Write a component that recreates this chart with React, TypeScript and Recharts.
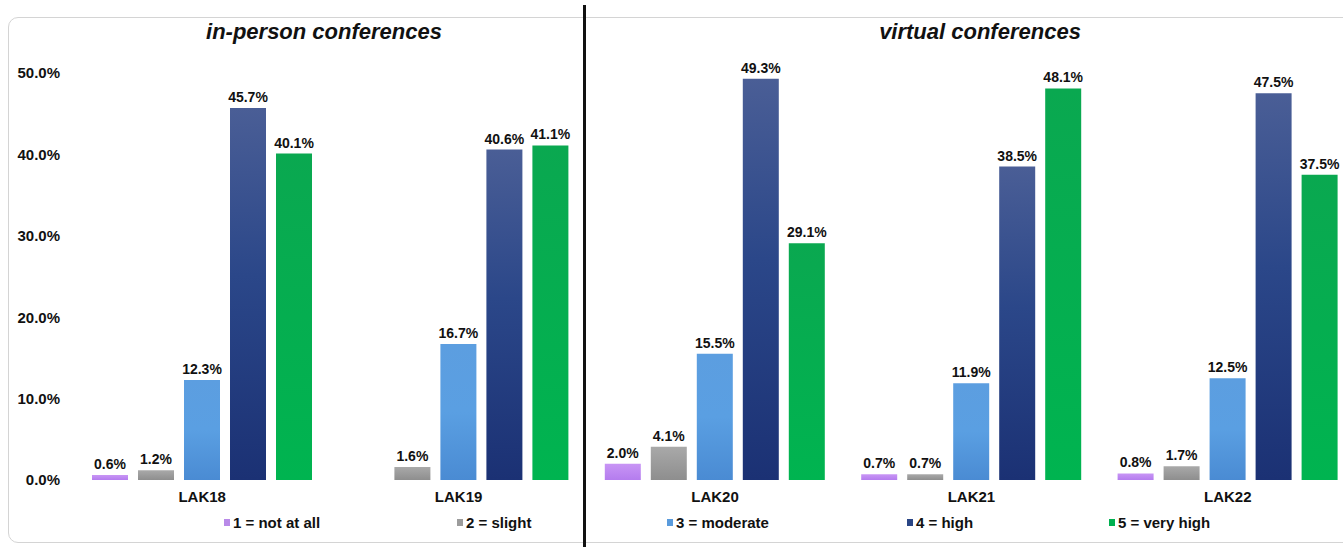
import React from 'react';
import { BarChart, Bar, XAxis, YAxis, LabelList, Legend } from 'recharts';

const categories = ['LAK18', 'LAK19', 'LAK20', 'LAK21', 'LAK22'];
const notAtAll: (number | null)[] = [0.6, null, 2.0, 0.7, 0.8];
const slight = [1.2, 1.6, 4.1, 0.7, 1.7];
const moderate = [12.3, 16.7, 15.5, 11.9, 12.5];
const high = [45.7, 40.6, 49.3, 38.5, 47.5];
const veryHigh = [40.1, 41.1, 29.1, 48.1, 37.5];
const yTicks = [0, 10, 20, 30, 40, 50];
const seriesNames = ['1 = not at all', '2 = slight', '3 = moderate', '4 = high', '5 = very high'];
const panelTitles = ['in-person conferences', 'virtual conferences'];

const data = categories.map((c, i) => ({
  name: c,
  s1: notAtAll[i],
  s2: slight[i],
  s3: moderate[i],
  s4: high[i],
  s5: veryHigh[i],
}));

const FONT = "Arial, 'Liberation Sans', sans-serif";
const keys = ['s1', 's2', 's3', 's4', 's5'];
const fills = ['url(#g1)', 'url(#g2)', 'url(#g3)', 'url(#g4)', 'url(#g5)'];
const legendColors = ['#b98ae8', '#9c9c9c', '#5a9bdc', '#2a4585', '#00b050'];
const legendLefts = [224, 457, 667, 907, 1109];

const fmt = (v: any) => (v == null || v === '' ? '' : `${Number(v).toFixed(1)}%`);

const LegendContent = () => (
  <div style={{ position: 'relative', height: 30, width: '100%' }}>
    {seriesNames.map((n, i) => (
      <div
        key={n}
        style={{
          position: 'absolute',
          left: legendLefts[i],
          top: 4,
          display: 'flex',
          alignItems: 'center',
          fontFamily: FONT,
          fontWeight: 700,
          fontSize: 15,
          color: '#111',
          whiteSpace: 'nowrap',
        }}
      >
        <span style={{ display: 'inline-block', width: 6, height: 7, background: legendColors[i], marginRight: 3 }} />
        {n}
      </div>
    ))}
  </div>
);

const titleStyle: React.CSSProperties = {
  position: 'absolute',
  top: 19,
  transform: 'translateX(-50%)',
  fontFamily: FONT,
  fontWeight: 700,
  fontStyle: 'italic',
  fontSize: 22,
  color: '#111',
  whiteSpace: 'nowrap',
};

export default function App() {
  return (
    <div style={{ position: 'absolute', left: 0, top: 0, width: 1343, height: 547, overflow: 'hidden', background: '#fff' }}>
      <div
        style={{
          position: 'absolute',
          left: 8,
          top: 17,
          width: 1400,
          height: 526,
          border: '1px solid #d4d4d4',
          borderRadius: 10,
          boxSizing: 'border-box',
        }}
      />
      <div style={{ position: 'absolute', left: 0, top: 0, width: 1356, height: 547 }}>
        <BarChart
          width={1356}
          height={547}
          data={data}
          margin={{ top: 73, right: 0, left: 0, bottom: 7 }}
          barSize={36}
          barGap={10}
        >
          <defs>
            <linearGradient id="g1" x1="0" y1="0" x2="0" y2="1">
              <stop offset="0%" stopColor="#c895f5" />
              <stop offset="100%" stopColor="#b47cee" />
            </linearGradient>
            <linearGradient id="g2" x1="0" y1="0" x2="0" y2="1">
              <stop offset="0%" stopColor="#a9a9a9" />
              <stop offset="100%" stopColor="#8e8e8e" />
            </linearGradient>
            <linearGradient id="g3" x1="0" y1="0" x2="0" y2="1">
              <stop offset="0%" stopColor="#5c9ee0" />
              <stop offset="50%" stopColor="#5a9fe2" />
              <stop offset="100%" stopColor="#4a8bd3" />
            </linearGradient>
            <linearGradient id="g4" x1="0" y1="0" x2="0" y2="1">
              <stop offset="0%" stopColor="#4a5e96" />
              <stop offset="45%" stopColor="#2b4789" />
              <stop offset="100%" stopColor="#1b3174" />
            </linearGradient>
            <linearGradient id="g5" x1="0" y1="0" x2="0" y2="1">
              <stop offset="0%" stopColor="#0aa850" />
              <stop offset="100%" stopColor="#00b450" />
            </linearGradient>
          </defs>
          <XAxis
            dataKey="name"
            axisLine={false}
            tickLine={false}
            tickMargin={5}
            height={30}
            tick={{ fontFamily: FONT, fontWeight: 700, fontSize: 15, fill: '#111' }}
          />
          <YAxis
            domain={[0, 50]}
            ticks={yTicks}
            width={74}
            axisLine={false}
            tickLine={false}
            tickMargin={8}
            tickFormatter={(v: number) => `${v.toFixed(1)}%`}
            tick={{ fontFamily: FONT, fontWeight: 700, fontSize: 15, fill: '#111' }}
          />
          <Legend verticalAlign="bottom" content={<LegendContent />} />
          {keys.map((k, i) => (
            <Bar key={k} dataKey={k} name={seriesNames[i]} fill={fills[i]} isAnimationActive={false}>
              <LabelList
                dataKey={k}
                position="top"
                offset={6}
                formatter={fmt}
                style={{ fontFamily: FONT, fontWeight: 700, fontSize: 14, fill: '#111' }}
              />
            </Bar>
          ))}
        </BarChart>
      </div>
      <div style={{ ...titleStyle, left: 324 }}>{panelTitles[0]}</div>
      <div style={{ ...titleStyle, left: 980 }}>{panelTitles[1]}</div>
      <div style={{ position: 'absolute', left: 583, top: 5, width: 3, height: 542, background: '#111' }} />
    </div>
  );
}
